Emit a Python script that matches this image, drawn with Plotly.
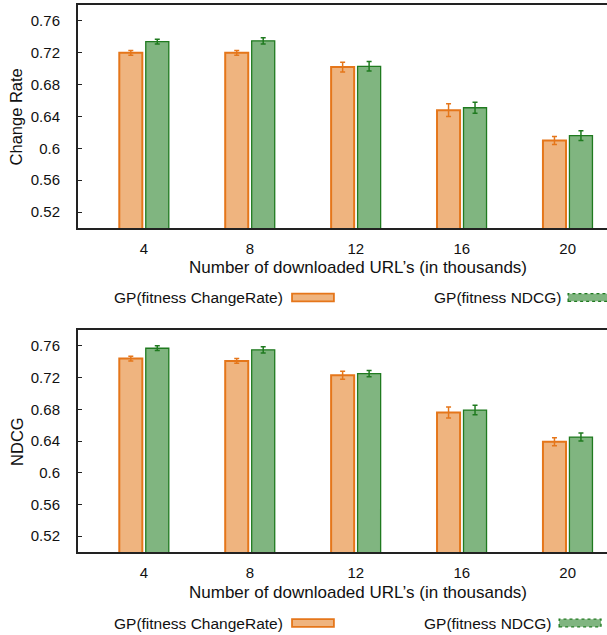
import plotly.graph_objects as go

# ---- data ----
categories = ["4", "8", "12", "16", "20"]
series_names = ["GP(fitness ChangeRate)", "GP(fitness NDCG)"]

# top panel: Change Rate
cr_changerate = [0.720, 0.720, 0.702, 0.648, 0.610]
cr_changerate_err = [0.003, 0.003, 0.006, 0.008, 0.005]
cr_ndcg = [0.734, 0.735, 0.703, 0.651, 0.616]
cr_ndcg_err = [0.003, 0.004, 0.006, 0.007, 0.006]

# bottom panel: NDCG
nd_changerate = [0.744, 0.741, 0.723, 0.676, 0.639]
nd_changerate_err = [0.003, 0.003, 0.005, 0.007, 0.005]
nd_ndcg = [0.757, 0.755, 0.725, 0.679, 0.645]
nd_ndcg_err = [0.003, 0.004, 0.004, 0.006, 0.005]

y_tickvals = [0.52, 0.56, 0.60, 0.64, 0.68, 0.72, 0.76]
y_ticktext = ["0.52", "0.56", "0.6", "0.64", "0.68", "0.72", "0.76"]

x_title = "Number of downloaded URL\u2019s (in thousands)"
y_titles = ["Change Rate", "NDCG"]

# ---- style ----
ORANGE_FILL = "#EFB47F"
ORANGE_LINE = "#E5761A"
GREEN_FILL = "#80B580"
GREEN_LINE = "#1F7A1F"
FONT = "Liberation Sans, Arial, sans-serif"
W, H = 609, 635   # the plot box runs just past the 607px window, as in the reference

fig = go.Figure()

panels = [
    ("x", "y", cr_changerate, cr_changerate_err, cr_ndcg, cr_ndcg_err),
    ("x2", "y2", nd_changerate, nd_changerate_err, nd_ndcg, nd_ndcg_err),
]
for xa, ya, a, ae, b, be in panels:
    fig.add_trace(go.Bar(
        x=categories, y=a, xaxis=xa, yaxis=ya, name=series_names[0],
        marker=dict(color=ORANGE_FILL, line=dict(color=ORANGE_LINE, width=2)),
        error_y=dict(type="data", array=ae, color=ORANGE_LINE, thickness=1.5, width=2.5),
        showlegend=False,
    ))
    fig.add_trace(go.Bar(
        x=categories, y=b, xaxis=xa, yaxis=ya, name=series_names[1],
        marker=dict(color=GREEN_FILL, line=dict(color=GREEN_LINE, width=1.3)),
        error_y=dict(type="data", array=be, color=GREEN_LINE, thickness=1.5, width=2.5),
        showlegend=False,
    ))

def px_y(p):
    return 1 - p / H

def px_x(p):
    return p / W

x_dom = [px_x(78), 1.0]
x_range = [-0.626, 4.371]
y_range = [0.5, 0.78]

axis_common = dict(showline=True, linecolor="#222", linewidth=1.5, mirror=True,
                   showgrid=False, zeroline=False,
                   tickfont=dict(family=FONT, size=15, color="#111"))

fig.update_layout(
    width=W, height=H,
    margin=dict(l=0, r=0, t=0, b=0),
    paper_bgcolor="white", plot_bgcolor="white",
    barmode="group", bargap=0.5, bargroupgap=0.13,
    font=dict(family=FONT, color="#111"),
    xaxis=dict(domain=x_dom, range=x_range, anchor="y", ticks="",
               ticklabelstandoff=6, **axis_common),
    yaxis=dict(domain=[px_y(228), px_y(5)], range=y_range, anchor="x",
               tickvals=y_tickvals, ticktext=y_ticktext, ticks="inside", ticklen=5,
               tickcolor="#222", ticklabelstandoff=13, **axis_common),
    xaxis2=dict(domain=x_dom, range=x_range, anchor="y2", ticks="",
                ticklabelstandoff=6, **axis_common),
    yaxis2=dict(domain=[px_y(552), px_y(330)], range=y_range, anchor="x2",
                tickvals=y_tickvals, ticktext=y_ticktext, ticks="inside", ticklen=5,
                tickcolor="#222", ticklabelstandoff=13, **axis_common),
)

annotations = []
shapes = []
panel_geom = [
    # (plot center y, x-title y, legend y, legend item 2 text right, swatch2 x0)
    (116.5, 267, 297.5, 560, 570),
    (441, 592, 623, 550, 561),
]
for i, (cy, ty, ly, t2r, s2x) in enumerate(panel_geom):
    annotations.append(dict(text=y_titles[i], x=px_x(17), y=px_y(cy), xref="paper", yref="paper",
                            textangle=-90, showarrow=False, xanchor="center", yanchor="middle",
                            font=dict(family=FONT, size=16.5, color="#111")))
    annotations.append(dict(text=x_title, x=px_x(359.5), y=px_y(ty), xref="paper", yref="paper",
                            showarrow=False, xanchor="center", yanchor="middle",
                            font=dict(family=FONT, size=17, color="#111")))
    annotations.append(dict(text=series_names[0], x=px_x(286), y=px_y(ly), xref="paper", yref="paper",
                            showarrow=False, xanchor="right", yanchor="middle",
                            font=dict(family=FONT, size=15.5, color="#111")))
    annotations.append(dict(text=series_names[1], x=px_x(t2r + 5), y=px_y(ly), xref="paper", yref="paper",
                            showarrow=False, xanchor="right", yanchor="middle",
                            font=dict(family=FONT, size=15.5, color="#111")))
    shapes.append(dict(type="rect", xref="paper", yref="paper",
                       x0=px_x(293), x1=px_x(335), y0=px_y(ly + 3.8), y1=px_y(ly - 3.8),
                       fillcolor=ORANGE_FILL, line=dict(color=ORANGE_LINE, width=1.8)))
    shapes.append(dict(type="rect", xref="paper", yref="paper",
                       x0=px_x(s2x), x1=px_x(s2x + 42), y0=px_y(ly + 3.8), y1=px_y(ly - 3.8),
                       fillcolor=GREEN_FILL, line=dict(color=GREEN_LINE, width=1.3, dash="dot")))

fig.update_layout(annotations=annotations, shapes=shapes)

fig.write_html("out.html", config={"displayModeBar": False},
               post_script="document.body.style.margin='0';document.body.style.overflow='hidden';")
